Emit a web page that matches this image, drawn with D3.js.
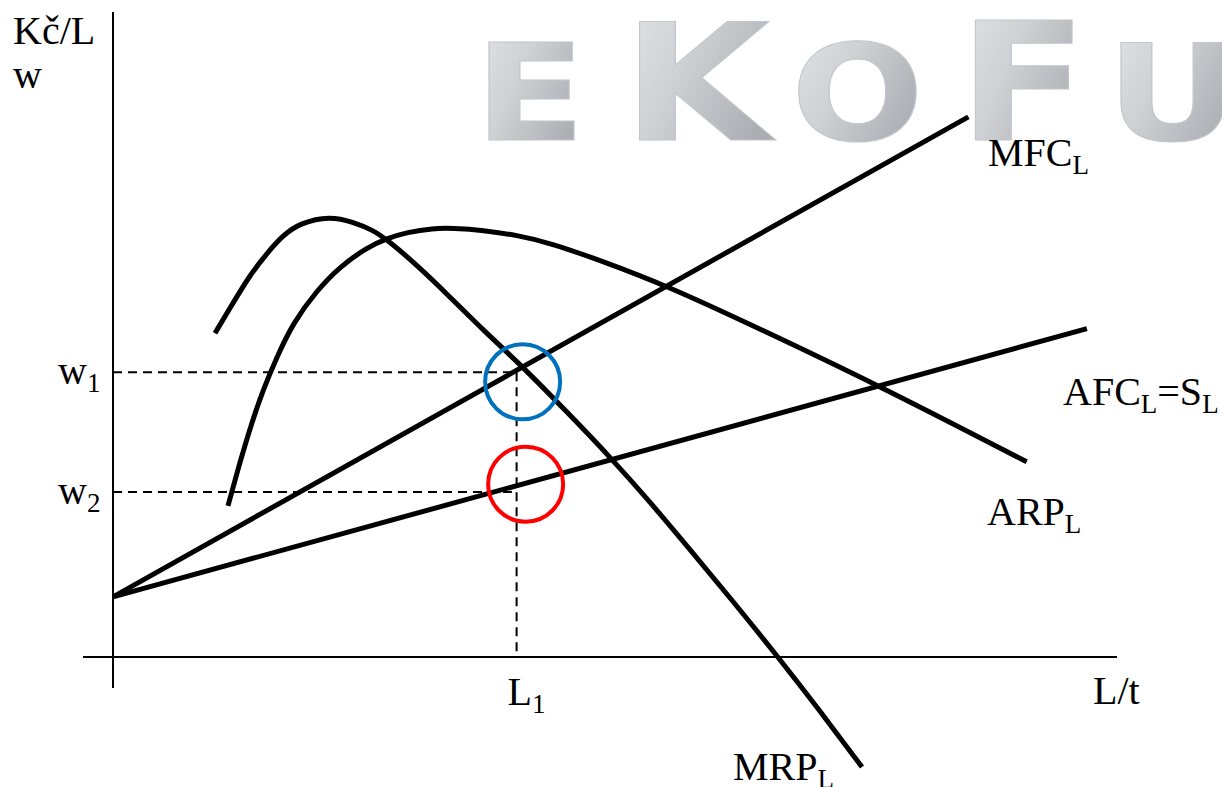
<!DOCTYPE html>
<html>
<head>
<meta charset="utf-8">
<script src="https://cdn.jsdelivr.net/npm/d3@7"></script>
<style>
  html, body { margin: 0; padding: 0; background: #fff; }
  svg { display: block; }
</style>
</head>
<body>
<svg id="chart" width="1222" height="787"></svg>
<script>
// ---------------- DATA (abstract units: L on x, w on y) ----------------
const mrpL = [10.16, 11.95, 13.65, 15.34, 16.93, 18.63, 21.61, 23.9, 25.9, 27.29, 30.28, 33.57, 36.85, 40.84, 45.22, 49.70, 53.49, 57.17, 61.65, 66.24, 70.42, 74.6];
const mrpW = [50.6, 55.3, 59.7, 63.1, 65.9, 67.8, 68.9, 67.97, 66.7, 65.2, 61.25, 56.25, 51.1, 45.31, 38.28, 30.94, 24.22, 17.34, 8.91, 0, -8.44, -17.19];

const arpL = [11.45, 12.65, 13.84, 14.94, 16.33, 17.93, 20.32, 22.61, 25.3, 27.29, 29.28, 31.87, 33.86, 36.85, 40.24, 43.53, 48.5, 55.18, 63.45, 76.2, 91.0];
const arpW = [23.6, 30.5, 36.7, 41.7, 46.9, 52.2, 57.3, 61.0, 64.0, 65.4, 66.35, 67.0, 67.0, 66.7, 65.9, 64.7, 62.0, 58.0, 52.0, 42.5, 30.5];

const mfcL = [0, 85.2];
const mfcW = [9.4, 84.4];

const afcL = [0, 97.0];
const afcW = [9.4, 51.3];

const w1 = 44.5, w2 = 25.8, L1 = 40.2;
const circleL = [40.8, 41.1];
const circleW = [43.0, 27.0];
const circleColors = ["#0072BD", "#FF0000"];

const yTickMain = ["w", "w"];
const yTickSub = ["1", "2"];
const yTickValues = [w1, w2];
const xTickMain = ["L"];
const xTickSub = ["1"];
const xTickValues = [L1];

const watermarkLetters = ["E", "K", "O", "F", "U"];

// ---------------- SCALES ----------------
const x = d3.scaleLinear().domain([0, 100]).range([113, 1117]);
const y = d3.scaleLinear().domain([0, 100]).range([657, 17]);

const svg = d3.select("#chart");
const serif = "'Liberation Serif', 'Times New Roman', serif";

// ---------------- WATERMARK ----------------
const defs = svg.append("defs");
const g1 = defs.append("linearGradient").attr("id", "wmGrad")
  .attr("x1", "0").attr("y1", "0").attr("x2", "1").attr("y2", "0.6");
g1.append("stop").attr("offset", "0").attr("stop-color", "#e3e5e8");
g1.append("stop").attr("offset", "0.45").attr("stop-color", "#cfd1d4");
g1.append("stop").attr("offset", "1").attr("stop-color", "#a9acb1");

const wmX = [474, 622, 791, 958, 1106];
const wmW = [112, 148, 133, 130, 133];
const wmSize = [133, 162, 133, 164, 133];
const wm = svg.append("g").attr("font-family", "'DejaVu Sans', sans-serif").attr("font-weight", "bold");
watermarkLetters.forEach((t, i) => {
  wm.append("text")
    .attr("x", wmX[i]).attr("y", 140)
    .attr("font-size", wmSize[i])
    .attr("textLength", wmW[i])
    .attr("lengthAdjust", "spacingAndGlyphs")
    .attr("fill", "url(#wmGrad)")
    .attr("stroke", "#c3c6ca").attr("stroke-width", 1)
    .text(t);
});

// ---------------- AXES ----------------
svg.append("line").attr("x1", x(0)).attr("x2", x(0)).attr("y1", 12).attr("y2", 688)
  .attr("stroke", "#000").attr("stroke-width", 2);
svg.append("line").attr("x1", 83).attr("x2", x(100)).attr("y1", y(0)).attr("y2", y(0))
  .attr("stroke", "#000").attr("stroke-width", 2);

// ---------------- DASHED GUIDES ----------------
const dash = "9,6";
yTickValues.forEach(v => {
  svg.append("line").attr("x1", x(0)).attr("x2", x(L1)).attr("y1", y(v)).attr("y2", y(v))
    .attr("stroke", "#000").attr("stroke-width", 2).attr("stroke-dasharray", dash);
});
svg.append("line").attr("x1", x(L1)).attr("x2", x(L1)).attr("y1", y(w1)).attr("y2", y(0))
  .attr("stroke", "#000").attr("stroke-width", 2).attr("stroke-dasharray", dash);

// ---------------- CURVES ----------------
const curve = d3.line().x(d => x(d[0])).y(d => y(d[1])).curve(d3.curveBasis);
const straight = d3.line().x(d => x(d[0])).y(d => y(d[1]));

const series = [
  { L: mfcL, W: mfcW, gen: straight },
  { L: afcL, W: afcW, gen: straight },
  { L: arpL, W: arpW, gen: curve },
  { L: mrpL, W: mrpW, gen: curve }
];
series.forEach(s => {
  svg.append("path")
    .attr("d", s.gen(s.L.map((l, i) => [l, s.W[i]])))
    .attr("fill", "none").attr("stroke", "#000").attr("stroke-width", 5)
    .attr("stroke-linejoin", "round");
});

// ---------------- CIRCLES ----------------
circleL.forEach((l, i) => {
  svg.append("circle").attr("cx", x(l)).attr("cy", y(circleW[i])).attr("r", 37.5)
    .attr("fill", "none").attr("stroke", circleColors[i]).attr("stroke-width", 4);
});

// ---------------- TEXT ----------------
function label(px, py, parts) {
  const t = svg.append("text").attr("x", px).attr("y", py)
    .attr("font-family", serif).attr("font-size", 40).attr("fill", "#000");
  let shift = 0;
  parts.forEach(p => {
    const ts = t.append("tspan").text(p.t);
    if (p.sub) { ts.attr("font-size", 27).attr("dy", 8 - shift); shift = 8; }
    else { if (shift) ts.attr("dy", -shift); shift = 0; }
  });
  return t;
}

label(13, 44, [{ t: "Kč/L" }]);
label(13, 88, [{ t: "w" }]);
yTickValues.forEach((v, i) => {
  label(58, y(v) + 12, [{ t: yTickMain[i] }, { t: yTickSub[i], sub: true }]);
});
xTickValues.forEach((v, i) => {
  label(x(v) - 9, 705, [{ t: xTickMain[i] }, { t: xTickSub[i], sub: true }]);
});
label(1093, 704, [{ t: "L/t" }]);
label(988, 166, [{ t: "MFC" }, { t: "L", sub: true }]);
label(1063, 405, [{ t: "AFC" }, { t: "L", sub: true }, { t: "=S" }, { t: "L", sub: true }]);
label(987, 525, [{ t: "ARP" }, { t: "L", sub: true }]);
label(733, 780, [{ t: "MRP" }, { t: "L", sub: true }]);
</script>
</body>
</html>
